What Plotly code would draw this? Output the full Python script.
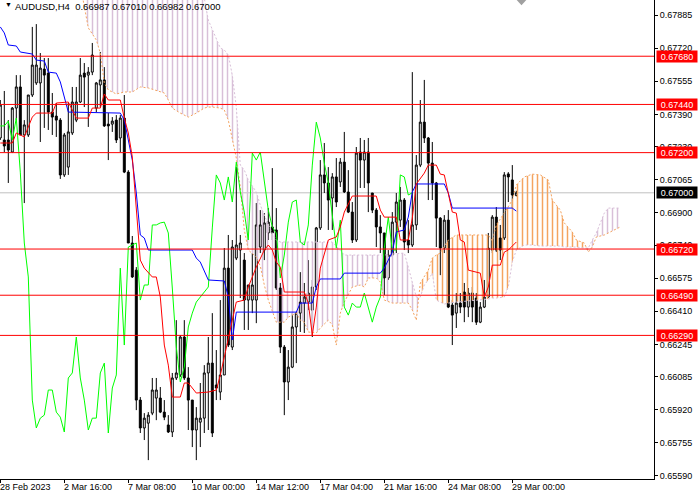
import plotly.graph_objects as go

# AUDUSD H4 with Ichimoku, MT4 look. Bar 0 = 28 Feb 2023 00:00, one bar every 4 hours (no weekends)

opens = [0.67273, 0.67263, 0.67263, 0.67203, 0.67422, 0.67527, 0.67288, 0.67288, 0.67487, 0.67547,
         0.67547, 0.67616, 0.67596, 0.67402, 0.67382, 0.67362, 0.67089, 0.67128, 0.67298, 0.67362,
         0.67452, 0.67596, 0.67586, 0.67601, 0.67422, 0.67537, 0.67562, 0.67342, 0.67342, 0.67362,
         0.67273, 0.67372, 0.67103, 0.66750, 0.66615, 0.65968, 0.65829, 0.65853, 0.65903, 0.65978,
         0.65978, 0.65908, 0.65844, 0.65809, 0.66078, 0.66093, 0.66282, 0.66078, 0.65968, 0.65819,
         0.65858, 0.65878, 0.66103, 0.66152, 0.66043, 0.66008, 0.66093, 0.66625, 0.66232, 0.66675,
         0.66715, 0.66665, 0.66466, 0.66466, 0.66466, 0.66730, 0.66715, 0.66800, 0.66830, 0.66815,
         0.66526, 0.66232, 0.66058, 0.66132, 0.66332, 0.66401, 0.66451, 0.66456, 0.66416, 0.66531,
         0.66825, 0.67089, 0.67049, 0.66974, 0.67079, 0.67054, 0.67153, 0.67004, 0.66904, 0.66765,
         0.67203, 0.67163, 0.67203, 0.66999, 0.66914, 0.66830, 0.66800, 0.66576, 0.66690, 0.66854,
         0.66864, 0.66964, 0.66765, 0.66740, 0.66840, 0.67138, 0.67352, 0.67273, 0.67148, 0.67049,
         0.66874, 0.66725, 0.66864, 0.66441, 0.66401, 0.66451, 0.66506, 0.66431, 0.66501, 0.66476,
         0.66356, 0.66431, 0.66481, 0.66715, 0.66879, 0.66775, 0.66775, 0.67094, 0.67064, 0.66987]
highs = [0.67462, 0.67507, 0.67362, 0.67427, 0.67586, 0.67586, 0.67362, 0.67487, 0.67826, 0.67840,
         0.67696, 0.67671, 0.67671, 0.67497, 0.67447, 0.67372, 0.67298, 0.67447, 0.67527, 0.67527,
         0.67671, 0.67646, 0.67626, 0.67746, 0.67552, 0.67701, 0.67626, 0.67397, 0.67377, 0.67387,
         0.67387, 0.67487, 0.67113, 0.66785, 0.66630, 0.65983, 0.65903, 0.65908, 0.66078, 0.66078,
         0.66033, 0.65968, 0.65893, 0.66103, 0.66366, 0.66292, 0.66366, 0.66132, 0.65968, 0.65933,
         0.66053, 0.66142, 0.66282, 0.66401, 0.66217, 0.66466, 0.66725, 0.66790, 0.66765, 0.67128,
         0.66790, 0.66700, 0.66541, 0.66700, 0.66949, 0.66914, 0.66899, 0.66924, 0.67123, 0.66924,
         0.66551, 0.66242, 0.66217, 0.66401, 0.66406, 0.66605, 0.66551, 0.66665, 0.66566, 0.66830,
         0.67163, 0.67248, 0.67128, 0.67098, 0.67173, 0.67173, 0.67303, 0.67113, 0.66954, 0.67228,
         0.67273, 0.67263, 0.67273, 0.66999, 0.66924, 0.66889, 0.66800, 0.66715, 0.66904, 0.66999,
         0.67029, 0.66974, 0.66864, 0.67601, 0.67188, 0.67462, 0.67562, 0.67278, 0.67253, 0.67054,
         0.66879, 0.66889, 0.66914, 0.66466, 0.66501, 0.66501, 0.66551, 0.66526, 0.66531, 0.66501,
         0.66456, 0.66566, 0.66800, 0.66889, 0.66929, 0.66840, 0.67103, 0.67103, 0.67138, 0.67010]
lows = [0.67263, 0.67203, 0.67049, 0.67198, 0.67362, 0.67288, 0.66949, 0.67278, 0.67477, 0.67537,
        0.67253, 0.67323, 0.67313, 0.67288, 0.67278, 0.67069, 0.67079, 0.67089, 0.67288, 0.67352,
        0.67447, 0.67427, 0.67328, 0.67586, 0.67402, 0.67427, 0.67328, 0.67163, 0.67303, 0.67248,
        0.67203, 0.67098, 0.66750, 0.66576, 0.65918, 0.65804, 0.65769, 0.65669, 0.65893, 0.65868,
        0.65903, 0.65868, 0.65804, 0.65784, 0.66068, 0.66083, 0.66068, 0.65819, 0.65734, 0.65669,
        0.65734, 0.65804, 0.65819, 0.65784, 0.65968, 0.65968, 0.66093, 0.66232, 0.66217, 0.66665,
        0.66476, 0.66317, 0.66317, 0.66401, 0.66351, 0.66700, 0.66665, 0.66765, 0.66765, 0.66516,
        0.66202, 0.65893, 0.65968, 0.66127, 0.66152, 0.66307, 0.66302, 0.66416, 0.66282, 0.66516,
        0.66815, 0.66999, 0.66815, 0.66815, 0.66929, 0.67029, 0.66999, 0.66899, 0.66750, 0.66755,
        0.67024, 0.67024, 0.66904, 0.66899, 0.66730, 0.66700, 0.66491, 0.66566, 0.66680, 0.66700,
        0.66830, 0.66715, 0.66700, 0.66730, 0.66815, 0.67128, 0.67248, 0.66964, 0.66964, 0.66730,
        0.66590, 0.66700, 0.66426, 0.66242, 0.66327, 0.66401, 0.66356, 0.66381, 0.66356, 0.66342,
        0.66351, 0.66426, 0.66476, 0.66700, 0.66705, 0.66665, 0.66765, 0.66954, 0.66924, 0.66982]
closes = [0.67437, 0.67233, 0.67213, 0.67422, 0.67527, 0.67288, 0.67338, 0.67487, 0.67636, 0.67636,
          0.67621, 0.67586, 0.67402, 0.67377, 0.67362, 0.67089, 0.67288, 0.67303, 0.67452, 0.67452,
          0.67586, 0.67576, 0.67601, 0.67686, 0.67547, 0.67562, 0.67333, 0.67333, 0.67357, 0.67263,
          0.67372, 0.67103, 0.66750, 0.66581, 0.65968, 0.65829, 0.65878, 0.65893, 0.66018, 0.66018,
          0.65908, 0.65883, 0.65809, 0.66078, 0.66103, 0.66282, 0.66078, 0.65968, 0.65819, 0.65878,
          0.65878, 0.66103, 0.66152, 0.65804, 0.66028, 0.66093, 0.66625, 0.66242, 0.66730, 0.66740,
          0.66750, 0.66466, 0.66541, 0.66541, 0.66840, 0.66840, 0.66850, 0.66854, 0.66800, 0.66526,
          0.66232, 0.66058, 0.66132, 0.66332, 0.66401, 0.66456, 0.66481, 0.66501, 0.66531, 0.66825,
          0.67089, 0.67049, 0.66964, 0.67079, 0.66954, 0.67153, 0.67004, 0.66904, 0.66765, 0.67198,
          0.67163, 0.67203, 0.67049, 0.66914, 0.66830, 0.66800, 0.66576, 0.66690, 0.66854, 0.66954,
          0.66964, 0.66755, 0.66740, 0.66840, 0.67138, 0.67352, 0.67273, 0.67148, 0.67049, 0.66874,
          0.66725, 0.66864, 0.66431, 0.66391, 0.66451, 0.66431, 0.66431, 0.66501, 0.66431, 0.66356,
          0.66431, 0.66481, 0.66725, 0.66879, 0.66715, 0.66715, 0.67089, 0.67079, 0.66989, 0.67000]

# Tenkan-sen (red) and Kijun-sen (blue), read at the bars where they turn
tenkan_bars = [0, 3, 4, 5, 6, 7, 8, 9, 13, 14, 17, 18, 19, 22, 23, 25, 26, 27, 30, 31,
               32, 33, 34, 35, 36, 37, 38, 39, 40, 41, 42, 43, 45, 46, 47, 49, 52, 54, 55, 56,
               57, 58, 59, 61, 62, 63, 64, 66, 67, 68, 69, 70, 71, 76, 77, 78, 79, 80, 81, 82,
               84, 85, 86, 88, 94, 95, 96, 99, 100, 102, 103, 104, 106, 107, 109, 110, 111, 113, 114, 115,
               116, 117, 120, 121, 122, 123, 125, 126, 127, 129]
tenkan = [0.67248, 0.67248, 0.67298, 0.67288, 0.67278, 0.67328, 0.67377, 0.67397, 0.67397, 0.67447,
          0.67452, 0.67412, 0.67372, 0.67372, 0.67422, 0.67422, 0.67492, 0.67462, 0.67462, 0.67372,
          0.67298, 0.67178, 0.66914, 0.66665, 0.66625, 0.66605, 0.66581, 0.66581, 0.66481, 0.66242,
          0.66142, 0.65983, 0.65983, 0.66053, 0.66053, 0.66003, 0.66008, 0.66018, 0.66092, 0.66182,
          0.66267, 0.66366, 0.66456, 0.66466, 0.66531, 0.66581, 0.66630, 0.66715, 0.66740, 0.66715,
          0.66655, 0.66630, 0.66506, 0.66506, 0.66451, 0.66292, 0.66431, 0.66625, 0.66700, 0.66765,
          0.66780, 0.66830, 0.66904, 0.66984, 0.66984, 0.66914, 0.66879, 0.66879, 0.66765, 0.66765,
          0.66874, 0.67044, 0.67098, 0.67138, 0.67138, 0.67093, 0.67089, 0.66904, 0.66899, 0.66765,
          0.66755, 0.66615, 0.66600, 0.66481, 0.66531, 0.66640, 0.66640, 0.66705, 0.66715, 0.66755]
kijun_bars = [0, 1, 2, 4, 5, 8, 9, 11, 12, 14, 15, 16, 17, 30, 31, 32, 33, 34, 35, 36,
              37, 48, 49, 50, 52, 56, 57, 58, 59, 74, 75, 78, 79, 80, 85, 86, 95, 96, 98, 99,
              101, 102, 103, 104, 111, 112, 113, 128, 129]
kijun = [0.67826, 0.67796, 0.67736, 0.67731, 0.67701, 0.67691, 0.67661, 0.67656, 0.67601, 0.67596,
         0.67552, 0.67477, 0.67402, 0.67397, 0.67362, 0.67263, 0.67163, 0.66999, 0.66790, 0.66775,
         0.66715, 0.66715, 0.66675, 0.66655, 0.66566, 0.66561, 0.66481, 0.66267, 0.66406, 0.66406,
         0.66451, 0.66451, 0.66531, 0.66571, 0.66571, 0.66600, 0.66600, 0.66625, 0.66705, 0.66805,
         0.66815, 0.66879, 0.67004, 0.67044, 0.67044, 0.66999, 0.66924, 0.66924, 0.66909]

# Senkou span A (sandy brown) and B (thistle), already shifted 26 bars ahead
cloud_bars = [20, 21, 22, 24, 25, 26, 27, 29, 31, 33, 35, 37, 41, 42, 43, 45, 47, 49, 51, 52,
              53, 55, 56, 57, 58, 59, 60, 61, 62, 64, 65, 66, 67, 68, 69, 70, 71, 72, 74, 75,
              76, 77, 79, 80, 82, 83, 84, 85, 86, 88, 90, 91, 92, 94, 95, 96, 98, 101, 102, 103,
              104, 105, 106, 107, 108, 109, 110, 111, 112, 114, 122, 123, 124, 126, 127, 128, 129, 131, 133, 135,
              137, 138, 140, 141, 143, 144, 146, 147, 148, 149, 151, 152, 155]
span_a = [0.68035, 0.67935, 0.67821, 0.67761, 0.67696, 0.67547, 0.67512, 0.67492, 0.67502, 0.67502,
          0.67527, 0.67522, 0.67497, 0.67462, 0.67422, 0.67397, 0.67377, 0.67397, 0.67422, 0.67427,
          0.67427, 0.67422, 0.67412, 0.67362, 0.67263, 0.67173, 0.67029, 0.66815, 0.66715, 0.66680,
          0.66635, 0.66541, 0.66466, 0.66416, 0.66356, 0.66356, 0.66356, 0.66381, 0.66401, 0.66366,
          0.66356, 0.66307, 0.66302, 0.66327, 0.66366, 0.66342, 0.66242, 0.66401, 0.66456, 0.66531,
          0.66541, 0.66531, 0.66576, 0.66576, 0.66556, 0.66466, 0.66451, 0.66451, 0.66451, 0.66416,
          0.66366, 0.66551, 0.66581, 0.66615, 0.66675, 0.66690, 0.66700, 0.66730, 0.66765, 0.66790,
          0.66790, 0.66760, 0.66840, 0.66899, 0.66929, 0.66964, 0.67039, 0.67079, 0.67093, 0.67089,
          0.67064, 0.66964, 0.66914, 0.66850, 0.66805, 0.66765, 0.66750, 0.66705, 0.66730, 0.66780,
          0.66790, 0.66800, 0.66830]
span_b = [0.68159, 0.68159, 0.68159, 0.68149, 0.68139, 0.68134, 0.68129, 0.68119, 0.68109, 0.68099,
          0.68089, 0.68080, 0.68060, 0.68050, 0.68040, 0.68020, 0.68010, 0.67990, 0.67970, 0.67860,
          0.67811, 0.67721, 0.67711, 0.67686, 0.67586, 0.67427, 0.67138, 0.67113, 0.67064, 0.67004,
          0.66939, 0.66889, 0.66840, 0.66800, 0.66765, 0.66755, 0.66755, 0.66755, 0.66755, 0.66755,
          0.66755, 0.66755, 0.66755, 0.66755, 0.66755, 0.66755, 0.66735, 0.66715, 0.66690, 0.66690,
          0.66690, 0.66690, 0.66690, 0.66690, 0.66690, 0.66690, 0.66695, 0.66700, 0.66630, 0.66551,
          0.66481, 0.66481, 0.66541, 0.66566, 0.66600, 0.66466, 0.66456, 0.66446, 0.66451, 0.66456,
          0.66471, 0.66476, 0.66476, 0.66481, 0.66531, 0.66655, 0.66715, 0.66740, 0.66740, 0.66735,
          0.66735, 0.66735, 0.66735, 0.66730, 0.66730, 0.66730, 0.66725, 0.66725, 0.66765, 0.66800,
          0.66899, 0.66924, 0.66924]

levels = [0.67680, 0.67440, 0.67200, 0.66720, 0.66490, 0.66290]
bid = 0.67000
price_ticks = [0.65590, 0.65755, 0.65920, 0.66085, 0.66245, 0.66410, 0.66575, 0.66740,
               0.66900, 0.67065, 0.67230, 0.67390, 0.67555, 0.67720, 0.67885]
date_bars = [0, 16, 32, 48, 64, 80, 96, 112, 128]
date_labels = ['28 Feb 2023', '2 Mar 16:00', '7 Mar 08:00', '10 Mar 00:00', '14 Mar 12:00',
               '17 Mar 04:00', '21 Mar 16:00', '24 Mar 08:00', '29 Mar 00:00']

CHIKOU_SHIFT = 26
FONT = 'Liberation Sans'
SANDY = '#F4A460'
THISTLE = '#D8BFD8'


def split_cloud(xs, a, b):
    # cut the cloud where the two spans cross, so each piece gets its own colour
    pieces = []
    px, pa, pb = [xs[0]], [a[0]], [b[0]]
    for i in range(1, len(xs)):
        d0 = a[i - 1] - b[i - 1]
        d1 = a[i] - b[i]
        if d0 * d1 < 0:
            t = d0 / (d0 - d1)
            xc = xs[i - 1] + t * (xs[i] - xs[i - 1])
            yc = a[i - 1] + t * (a[i] - a[i - 1])
            px.append(xc); pa.append(yc); pb.append(yc)
            pieces.append((px, pa, pb, d0 > 0))
            px, pa, pb = [xc], [yc], [yc]
        px.append(xs[i]); pa.append(a[i]); pb.append(b[i])
    pieces.append((px, pa, pb, a[-1] > b[-1]))
    return pieces


fig = go.Figure()

for px, pa, pb, a_on_top in split_cloud(cloud_bars, span_a, span_b):
    color = SANDY if a_on_top else THISTLE
    fig.add_trace(go.Scatter(
        x=px + px[::-1], y=pa + pb[::-1],
        mode='none', fill='toself', fillcolor='rgba(0,0,0,0)',
        fillpattern=dict(shape='|', fgcolor=color, bgcolor='rgba(0,0,0,0)',
                         size=5, solidity=0.3, fgopacity=1),
        hoverinfo='skip'))

fig.add_trace(go.Scatter(x=cloud_bars, y=span_a, mode='lines',
                         line=dict(color=SANDY, width=1, dash='2px,2px'), hoverinfo='skip'))
fig.add_trace(go.Scatter(x=cloud_bars, y=span_b, mode='lines',
                         line=dict(color=THISTLE, width=1, dash='2px,2px'), hoverinfo='skip'))

fig.add_trace(go.Candlestick(
    x=list(range(len(opens))), open=opens, high=highs, low=lows, close=closes,
    increasing=dict(line=dict(color='black', width=1), fillcolor='white'),
    decreasing=dict(line=dict(color='black', width=1), fillcolor='black'),
    whiskerwidth=0, hoverinfo='skip'))

# Chikou span: the close drawn 26 bars back
fig.add_trace(go.Scatter(x=[i - CHIKOU_SHIFT for i in range(CHIKOU_SHIFT, len(closes))],
                         y=closes[CHIKOU_SHIFT:], mode='lines',
                         line=dict(color='#00FF00', width=1), hoverinfo='skip'))
fig.add_trace(go.Scatter(x=kijun_bars, y=kijun, mode='lines',
                         line=dict(color='#0000FF', width=1), hoverinfo='skip'))
fig.add_trace(go.Scatter(x=tenkan_bars, y=tenkan, mode='lines',
                         line=dict(color='#FF0000', width=1), hoverinfo='skip'))

for lv in levels:
    fig.add_shape(type='line', xref='paper', x0=0, x1=1, y0=lv, y1=lv,
                  line=dict(color='#FF0000', width=1), layer='above')
    fig.add_annotation(xref='paper', x=1, xanchor='left', xshift=2, y=lv, yanchor='middle',
                       text=f'{lv:.5f}', showarrow=False, bgcolor='#FF0000',
                       font=dict(family=FONT, size=9, color='white'),
                       width=40, height=11, borderpad=0)

fig.add_shape(type='line', xref='paper', x0=0, x1=1, y0=bid, y1=bid,
              line=dict(color='#C0C0C0', width=1), layer='below')
fig.add_annotation(xref='paper', x=1, xanchor='left', xshift=2, y=bid, yanchor='middle',
                   text=f'{bid:.5f}', showarrow=False, bgcolor='black',
                   font=dict(family=FONT, size=9, color='white'),
                   width=40, height=11, borderpad=0)

for b, lab in zip(date_bars, date_labels):
    fig.add_annotation(x=b, xanchor='left', xshift=-2, yref='paper', y=0, yanchor='top', yshift=-1,
                       text=lab, showarrow=False, font=dict(family=FONT, size=9, color='black'))

fig.add_annotation(xref='paper', x=0, xanchor='left', xshift=3, yref='paper', y=1, yanchor='top',
                   yshift=1, text='\u25bc', showarrow=False, font=dict(family=FONT, size=7, color='black'))
fig.add_annotation(xref='paper', x=0, xanchor='left', xshift=13, yref='paper', y=1, yanchor='top',
                   yshift=1, showarrow=False, font=dict(family=FONT, size=9.5, color='black'),
                   text=f'AUDUSD,H4  {opens[-1]:.5f} {highs[-1]:.5f} {lows[-1]:.5f} {closes[-1]:.5f}')

# chart shift marker at the top
fig.add_shape(type='path', xref='x', yref='paper',
              path='M 129.1,1 L 131.5,1 L 130.3,0.989 Z',
              fillcolor='#A0A0A0', line=dict(width=0))

fig.update_layout(
    width=700, height=500,
    margin=dict(l=0, r=46, t=0, b=21),
    paper_bgcolor='white', plot_bgcolor='white',
    showlegend=False,
    xaxis=dict(range=[-0.075, 163.425], rangeslider=dict(visible=False),
               showgrid=False, zeroline=False, showline=True, linecolor='black', linewidth=1,
               tickvals=date_bars, showticklabels=False, ticks='outside', ticklen=3,
               tickcolor='black', fixedrange=True),
    yaxis=dict(range=[0.65575, 0.67960], side='right',
               showgrid=False, zeroline=False, showline=True, linecolor='black', linewidth=1,
               tickvals=price_ticks, ticktext=[f'{p:.5f}' for p in price_ticks],
               ticks='outside', ticklen=3, tickcolor='black',
               tickfont=dict(family=FONT, size=9, color='black'), fixedrange=True),
)

# the page has a default 8px body margin; drop it so the chart sits at the window corner
fig.write_html('out.html', config={'displayModeBar': False},
               post_script="document.body.style.margin='0';")
